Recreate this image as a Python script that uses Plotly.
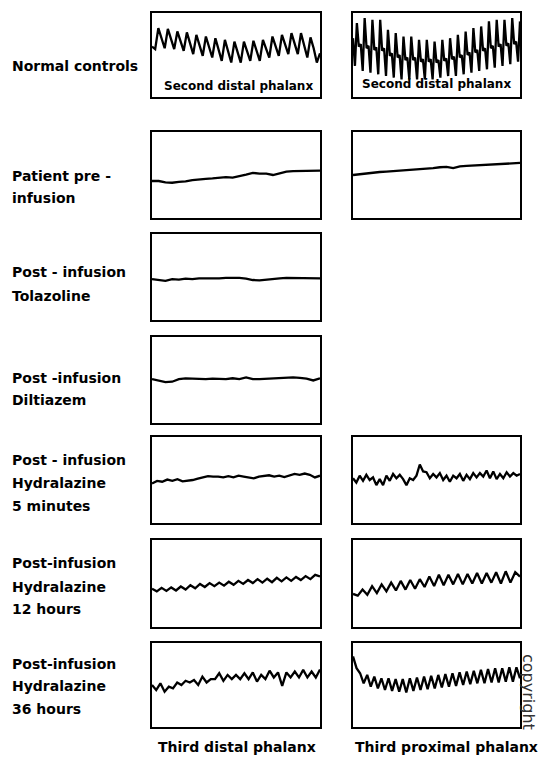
import plotly.graph_objects as go
import numpy as np

# ---------------- data (pulse amplitude traces, % of box height) ----------------
row_labels = [
    "Normal controls",
    "Patient pre -<br>infusion",
    "Post - infusion<br>Tolazoline",
    "Post -infusion<br>Diltiazem",
    "Post - infusion<br>Hydralazine<br>5 minutes",
    "Post-infusion<br>Hydralazine<br>12 hours",
    "Post-infusion<br>Hydralazine<br>36 hours",
]
column_labels = ["Third distal phalanx", "Third proximal phalanx"]
inbox_label = "Second distal phalanx"

normal_left = [60, 57, 82, 70, 58, 81, 69, 57, 78, 67, 55, 77, 64, 51, 74, 62, 49, 72, 60, 47,
               70, 57, 43, 68, 55, 41, 66, 54, 41, 66, 55, 43, 67, 56, 43, 68, 58, 47, 72, 61,
               49, 74, 63, 51, 76, 64, 51, 76, 62, 47, 71, 58, 41, 52]
normal_right = [70,
                37, 88, 60, 63, 31, 94, 58, 61, 29, 92, 56, 59, 27, 92, 55, 58,
                25, 80, 49, 52, 23, 76, 47, 50, 21, 72, 44, 47, 21, 72, 44, 47,
                21, 68, 42, 45, 21, 68, 42, 45, 21, 66, 41, 44, 23, 68, 43, 46,
                25, 70, 45, 48, 25, 74, 47, 50, 27, 78, 50, 53, 29, 82, 53, 56,
                31, 84, 55, 58, 33, 90, 58, 61, 35, 92, 60, 63, 37, 92, 61, 64,
                39, 94, 63, 66, 42, 90]
pre_left = [43, 43, 41.5, 41, 42, 42.5, 44, 45, 45.5, 46, 46.5, 47.5, 47, 48.5, 50.5, 52.5,
            51.5, 51.5, 50, 52, 54, 54.5, 54.5, 55, 55, 55]
pre_right = [50, 51, 52, 53, 53.5, 54, 54.5, 55, 56, 56, 57, 57.5, 58, 59, 59.5, 58, 60,
             60.5, 61, 61.5, 62, 62.5, 63, 63.5, 64, 64]
tolazoline_left = [47.5, 46.5, 45.5, 47.5, 47, 48, 47.5, 48.5, 48.5, 48, 48.5, 49, 49, 49,
                   48, 46.5, 46, 47, 48, 48.5, 49, 49, 49, 48.5, 49, 48.5]
diltiazem_left = [51, 49.5, 47.5, 48, 51, 52, 51.5, 51.5, 51, 51.5, 51.5, 51, 52, 51, 53, 51,
                  51, 51.5, 52, 52.5, 53, 53, 52.5, 51.5, 49.5, 52]
hydral5_left = [46, 49, 48, 50.5, 49, 51, 48.5, 49, 50, 51.5, 53, 54.5, 54, 54, 53, 54.5, 53,
                55, 54, 53, 52, 54, 54.5, 55.5, 54, 55, 53.5, 55.5, 57, 56, 57.5, 56, 53, 55]
hydral5_right = [52, 47, 55, 49, 56, 50, 53, 44, 51, 44, 55, 49, 57, 52, 56, 51, 44, 52, 50,
                 55, 68, 60, 59, 52, 57, 53, 58, 50, 55, 48, 55, 52, 57, 49, 56, 51, 58, 53,
                 58, 54, 61, 52, 60, 51, 57, 52, 59, 54, 58, 55, 57]
hydral12_left = [44, 41, 45, 41.5, 45.5, 42, 46.5, 43, 48, 44.5, 49.5, 46, 50.5, 47, 51, 47.5,
                 52, 48.5, 53, 49.5, 54, 50.5, 55, 51, 55.5, 51.5, 56.5, 52.5, 57, 53, 57.5,
                 54, 58.5, 55, 60, 58]
hydral12_right = [38, 36, 43, 37, 47, 39, 49, 41, 51, 42, 53, 43, 54, 44, 55, 46, 58, 47, 60,
                  48, 60, 49, 61, 49, 61, 50, 62, 50, 62, 51, 63, 50, 64, 51, 63, 58]
hydral36_left = [50, 44, 52, 42, 48, 46, 53, 50, 55, 53, 56, 50, 60, 53, 57, 57, 64, 55, 62,
                 57, 62, 57, 64, 57, 65, 54, 62, 57, 67, 59, 65, 49, 65, 59, 66, 59, 68, 59,
                 66, 59, 68.5]
hydral36_right = [84, 70, 64, 52, 62, 48, 60, 46, 58, 44, 58, 43, 57, 42, 57, 41, 58, 43, 59,
                  44, 60, 45, 61, 46, 62, 47, 63, 48, 64, 49, 65, 50, 66, 51, 67, 52, 68, 52,
                  69, 53, 70, 53, 70, 54, 71, 54, 71, 58]

# (row, col, series) ; None means empty box
panels = [
    (0, 0, normal_left), (0, 1, normal_right),
    (1, 0, pre_left), (1, 1, pre_right),
    (2, 0, tolazoline_left), (2, 1, None),
    (3, 0, diltiazem_left), (3, 1, None),
    (4, 0, hydral5_left), (4, 1, hydral5_right),
    (5, 0, hydral12_left), (5, 1, hydral12_right),
    (6, 0, hydral36_left), (6, 1, hydral36_right),
]

# ---------------- layout geometry (pixels) ----------------
W, H = 541, 758
rows_px = [(13, 97), (132, 218), (234, 320), (337, 423), (437, 523), (540, 627), (643, 727)]
cols_px = [(152, 320), (353, 520)]
label_y = [[66], [176, 198], [272, 296], [378, 400], [460, 483, 506], [563, 587, 609], [664, 686, 709]]

def px(x):
    return x / W

def py(y):
    return 1 - y / H

fig = go.Figure()
layout = dict(
    width=W, height=H, margin=dict(l=0, r=0, t=0, b=0),
    paper_bgcolor="white", plot_bgcolor="white", showlegend=False,
)
axis_common = dict(showline=True, mirror=True, linecolor="black", linewidth=1.8,
                   showgrid=False, zeroline=False, showticklabels=False, ticks="",
                   fixedrange=True)

for i, (r, c, series) in enumerate(panels):
    n = i + 1
    xa = "xaxis" if n == 1 else f"xaxis{n}"
    ya = "yaxis" if n == 1 else f"yaxis{n}"
    x0, x1 = cols_px[c]
    y0, y1 = rows_px[r]
    layout[xa] = dict(domain=[px(x0), px(x1)], range=[0, 100],
                      anchor="y" if n == 1 else f"y{n}", **axis_common)
    layout[ya] = dict(domain=[py(y1), py(y0)], range=[0, 100],
                      anchor="x" if n == 1 else f"x{n}", **axis_common)
    if series is not None:
        xs = np.linspace(0, 100, len(series))
        fig.add_trace(go.Scatter(
            x=xs, y=series, mode="lines",
            line=dict(color="black", width=2.3, shape="linear"),
            xaxis="x" if n == 1 else f"x{n}", yaxis="y" if n == 1 else f"y{n}",
            hoverinfo="skip", cliponaxis=True,
        ))

fig.update_layout(**layout)

font_main = dict(family="DejaVu Sans", size=14, color="black", weight="bold")
annotations = []
for r, lab in enumerate(row_labels):
    lines = lab.split("<br>")
    for k, line in enumerate(lines):
        annotations.append(dict(
            text=line, x=px(10), y=py(label_y[r][k]), xref="paper", yref="paper",
            xanchor="left", yanchor="middle", showarrow=False, font=font_main))

# in-box labels of the normal controls
inbox_font = dict(family="DejaVu Sans", size=12, color="black", weight="bold")
annotations.append(dict(text=inbox_label, x=px(238), y=py(86), xref="paper", yref="paper",
                        xanchor="center", yanchor="middle", showarrow=False, font=inbox_font))
annotations.append(dict(text=inbox_label, x=px(436), y=py(84), xref="paper", yref="paper",
                        xanchor="center", yanchor="middle", showarrow=False, font=inbox_font))

# column labels at the bottom
annotations.append(dict(text=column_labels[0], x=px(237), y=py(747), xref="paper", yref="paper",
                        xanchor="center", yanchor="middle", showarrow=False, font=font_main))
annotations.append(dict(text=column_labels[1], x=px(446), y=py(747), xref="paper", yref="paper",
                        xanchor="center", yanchor="middle", showarrow=False, font=font_main))

# vertical copyright mark
annotations.append(dict(text="copyright", x=px(529), y=py(692), xref="paper", yref="paper",
                        xanchor="center", yanchor="middle", showarrow=False, textangle=90,
                        font=dict(family="DejaVu Sans", size=16, color="#333333")))

fig.update_layout(annotations=annotations)
fig.write_html("out.html", config={"displayModeBar": False},
               post_script="document.body.style.margin='0px';document.body.style.overflow='hidden';")
